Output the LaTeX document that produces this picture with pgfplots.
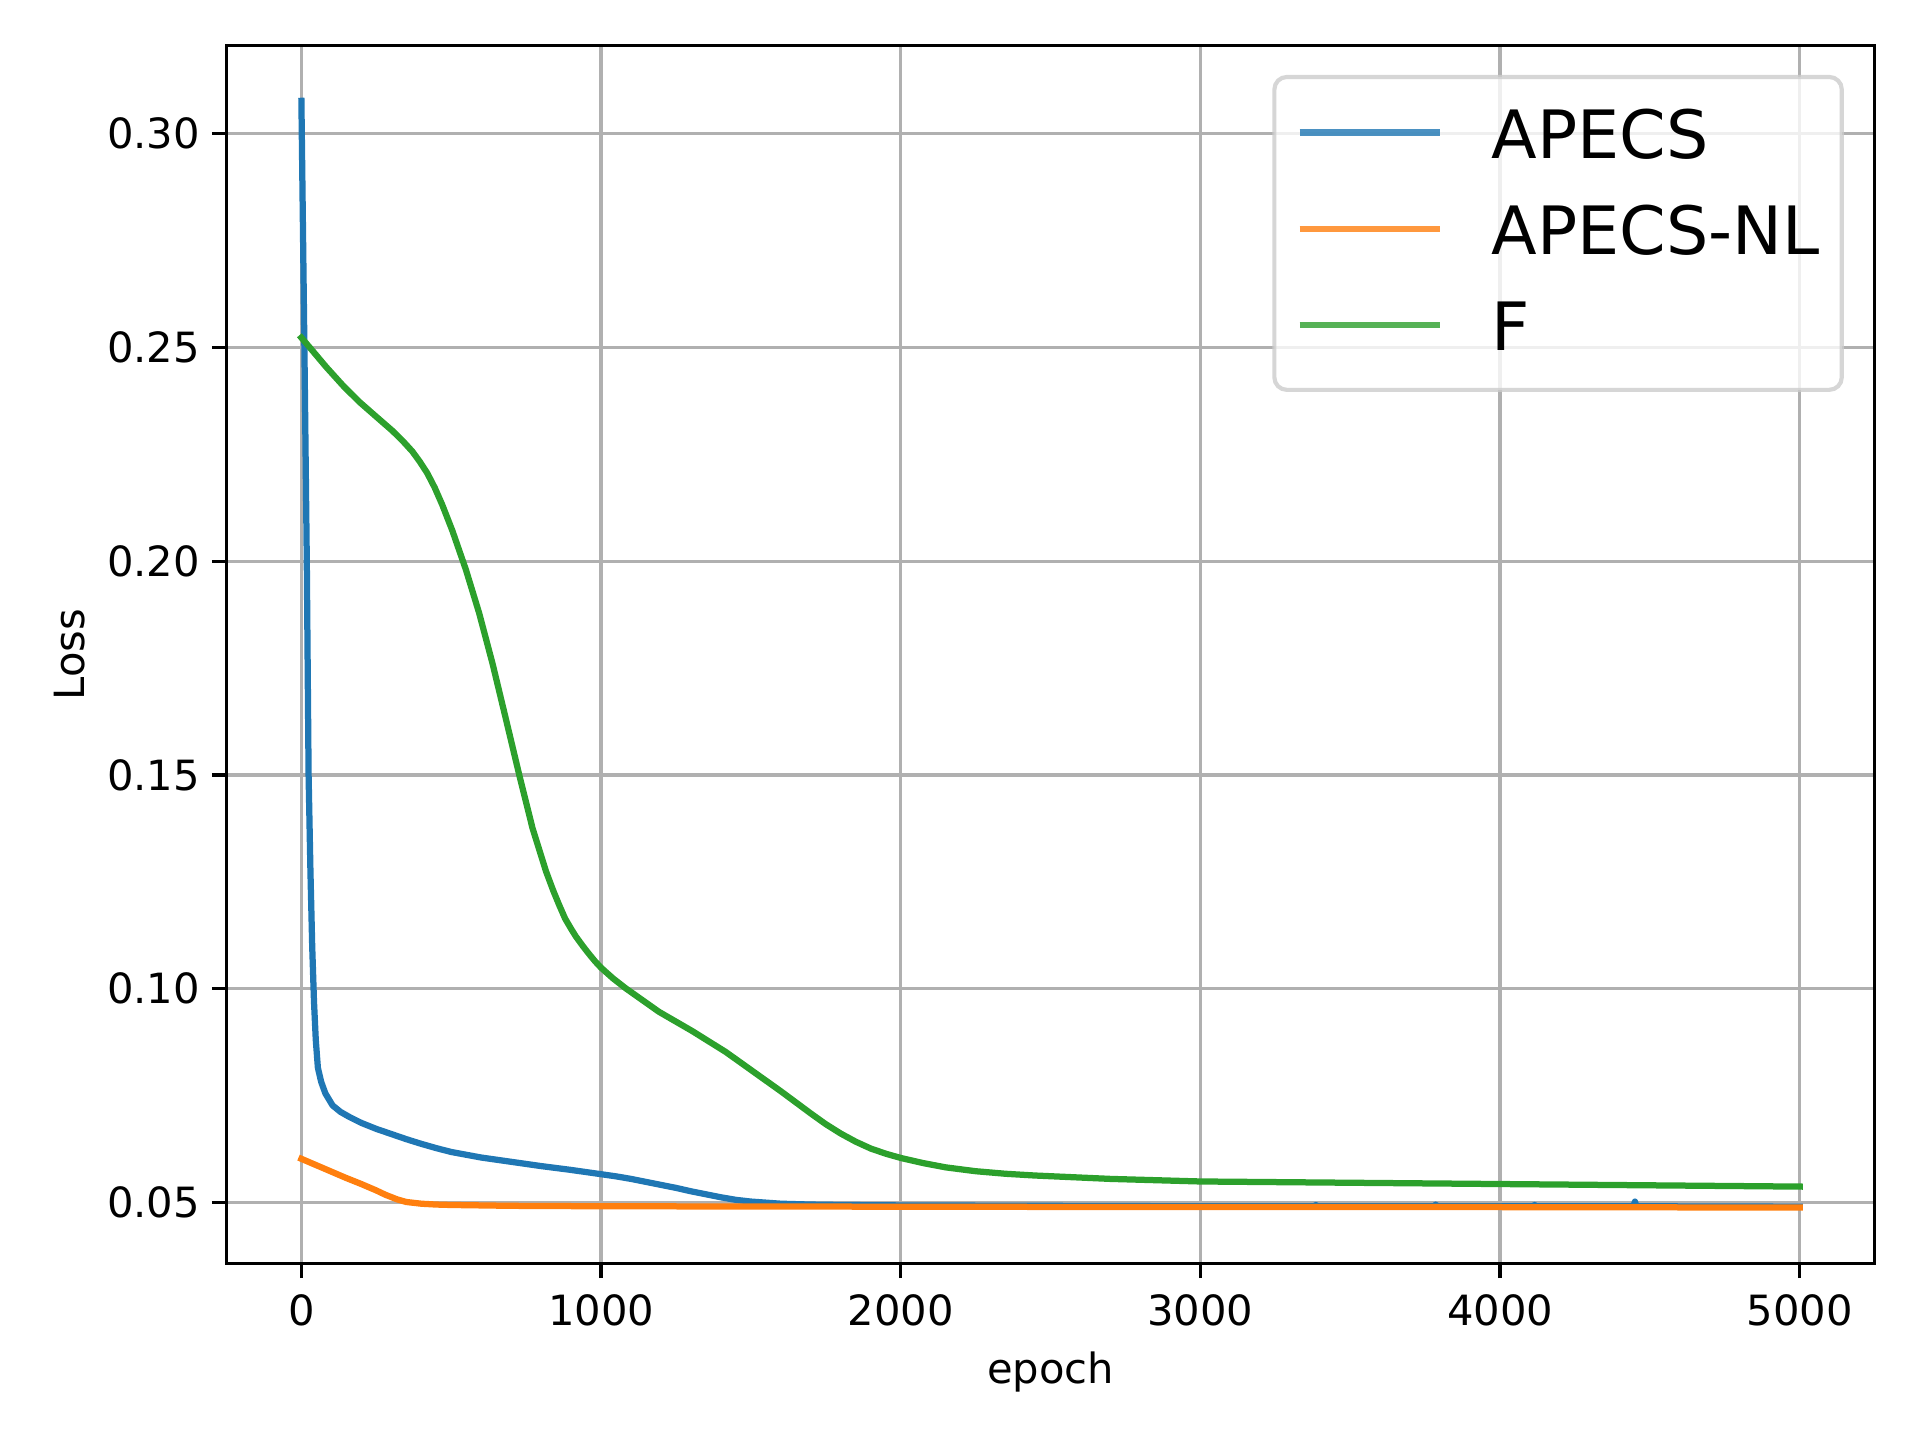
\documentclass[border=0pt]{standalone}
\usepackage{fontspec}
\setmainfont{DejaVu Sans}
\usepackage{pgfplots}
\pgfplotsset{compat=1.18}
\usetikzlibrary{calc}
\definecolor{tabblue}{HTML}{1F77B4}
\definecolor{taborange}{HTML}{FF7F0E}
\definecolor{tabgreen}{HTML}{2CA02C}
\definecolor{gridgray}{HTML}{B0B0B0}
\definecolor{legframe}{HTML}{CCCCCC}
\begin{document}
\begin{tikzpicture}
\begin{axis}[
  scale only axis,
  width=395.6pt, height=292.4pt,
  xmin=-250, xmax=5250,
  ymin=0.0357, ymax=0.3207,
  xtick={0,1000,2000,3000,4000,5000},
  ytick={0.05,0.10,0.15,0.20,0.25,0.30},
  /pgf/number format/assume math mode=true,
  x tick label style={/pgf/number format/1000 sep={}},
  y tick label style={/pgf/number format/fixed, /pgf/number format/fixed zerofill, /pgf/number format/precision=2},
  tick label style={font=\fontsize{10}{12}\selectfont, inner sep=0pt},
  xticklabel style={anchor=north, yshift=-3.7pt},
  yticklabel style={anchor=east, xshift=-2.7pt},
  tick align=outside, tick pos=left,
  major tick length=3.5pt,
  every tick/.style={black, line width=0.8pt},
  axis line style={line width=0.8pt},
  grid=major,
  major grid style={color=gridgray, line width=0.8pt},
  xlabel={epoch}, ylabel={Loss},
  label style={font=\fontsize{10}{12}\selectfont, inner sep=0pt},
  xlabel style={at={([yshift=-20.9pt]axis description cs:0.5,0)}, anchor=north},
  ylabel style={at={([xshift=-33.8pt]axis description cs:0,0.5)}, anchor=south},
  legend cell align=left,
  legend image code/.code={\draw[#1, line cap=butt] (0pt,1.1pt) -- (33.6pt,1.1pt);},
  legend style={at={(1,1)}, anchor=north east, xshift=-7.4pt, yshift=-7.1pt,
    draw=legframe, line width=1pt, rounded corners=3pt,
    fill=white, fill opacity=0.8, draw opacity=0.8, text opacity=1,
    font=\fontsize{16}{19}\selectfont,
    inner xsep=5.3pt, inner ysep=7.8pt,
    row sep=9.8pt, column sep=11.8pt,
    nodes={inner sep=0pt, text height=11.7pt, text depth=1.6pt}},
  every axis plot/.append style={line width=1.5pt, line join=round, line cap=rect},
]
\addplot[tabblue] coordinates {
(0,0.3077)(10,0.25)(18,0.20)(24,0.15)(30,0.128)(36,0.110)(42,0.097)(48,0.088)
(55,0.0815)(66,0.0782)(80,0.0755)(104,0.0727)(130,0.0712)(160,0.0700)(200,0.0686)
(250,0.0672)(300,0.0660)(350,0.0648)(400,0.0637)(450,0.0627)(500,0.0618)(600,0.0605)
(700,0.0595)(800,0.0585)(900,0.0576)(1000,0.0566)(1050,0.0561)(1100,0.0555)(1150,0.0548)
(1200,0.0541)(1250,0.0534)(1300,0.0526)(1350,0.0519)(1400,0.0512)(1450,0.0506)
(1500,0.0502)(1600,0.0497)(1700,0.0495)(1800,0.0494)(2000,0.0493)
(2500,0.0492)(3000,0.0491)(3380,0.0491)(3385,0.0494)(3390,0.0491)(3780,0.0491)
(3785,0.0495)(3790,0.0491)(4110,0.0491)(4115,0.0494)(4120,0.0491)(4445,0.0491)
(4450,0.0502)(4455,0.0491)(5000,0.0490)
};
\addlegendentry{APECS}
\addplot[taborange] coordinates {
(0,0.0602)(50,0.0587)(100,0.0572)(150,0.0557)(200,0.0543)(250,0.0528)(280,0.0518)
(320,0.0507)(350,0.0501)(400,0.0497)(450,0.0495)(500,0.0494)(700,0.0492)(1000,0.0491)
(2000,0.0490)(3000,0.0489)(4000,0.0489)(5000,0.0488)
};
\addlegendentry{APECS-NL}
\addplot[tabgreen] coordinates {
(0,0.2523)(40,0.2490)(82,0.2455)(140,0.2410)(193,0.2373)(250,0.2338)(304,0.2305)
(340,0.2280)(370,0.2257)(395,0.2233)(420,0.2206)(445,0.2172)(470,0.2132)(504,0.2071)(549,0.1980)
(593,0.1879)(638,0.1760)(682,0.1632)(727,0.1500)(771,0.1376)(816,0.1275)(840,0.1230)
(860,0.1196)(880,0.1164)(900,0.1140)(916,0.1122)(940,0.1099)(960,0.1081)(980,0.1064)
(1000,0.1049)(1040,0.1024)(1082,0.1001)(1193,0.0946)(1304,0.0901)(1416,0.0852)
(1500,0.0810)(1600,0.0760)(1702,0.0707)(1750,0.0683)(1800,0.0661)(1850,0.0642)
(1900,0.0626)(1950,0.0614)(2000,0.0604)(2075,0.0592)(2150,0.0582)(2250,0.0573)
(2350,0.0567)(2446,0.0563)(2700,0.0555)(3000,0.0549)(3500,0.0546)
(4000,0.0543)(4500,0.0540)(5000,0.0537)
};
\addlegendentry{F}
\end{axis}
\pgfresetboundingbox
\path[use as bounding box] ($(current axis.south west)+(-54.36pt,-42.3pt)$) rectangle ($(current axis.north east)+(10.87pt,10.87pt)$);
\end{tikzpicture}
\end{document}
